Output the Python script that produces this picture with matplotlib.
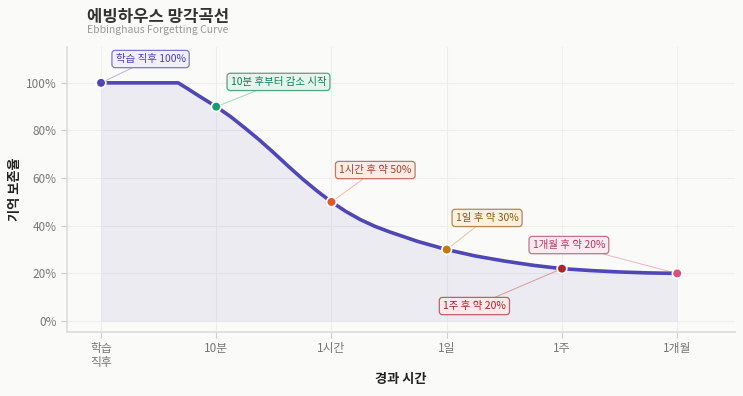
import matplotlib.pyplot as plt

plt.rcParams['font.family'] = ['Noto Sans CJK KR', 'DejaVu Sans']

# key points
labels = ['학습\n직후', '10분', '1시간', '1일', '1주', '1개월']
key_x = [0, 1, 2, 3, 4, 5]
key_y = [100, 90, 50, 30, 22, 20]
key_colors = ['#5046b4', '#1a9a74', '#e0582a', '#c07a10', '#a8282e', '#d9507a']
text_colors = ['#4a3fb0', '#137a5c', '#a0422a', '#8a5a14', '#a0262c', '#a83a5e']
box_fill = ['#f1effc', '#e4f5ee', '#fdebe4', '#fdf1de', '#fde9e9', '#fdeaf0']
notes = ['학습 직후 100%', '10분 후부터 감소 시작', '1시간 후 약 50%',
         '1일 후 약 30%', '1주 후 약 20%', '1개월 후 약 20%']
note_x = [0.43, 1.54, 2.38, 3.35, 3.24, 4.06]
note_y = [110, 100.4, 63.4, 43.3, 6.3, 31.9]

# curve
curve_x = [0, 0.67, 0.75, 0.85, 1, 1.125, 1.25, 1.375, 1.5, 1.625, 1.75, 1.875, 2,
           2.125, 2.25, 2.375, 2.5, 2.75, 3, 3.25, 3.5, 3.75, 4, 4.25, 4.5, 4.75, 5]
curve_y = [100, 100, 97.6, 94.5, 90, 85.8, 81, 76, 70.6, 65, 59.6, 54.6, 50,
           46, 42.6, 39.8, 37.5, 33.4, 30, 27.3, 25.2, 23.4, 22, 21.2, 20.6, 20.2, 20]

bg = '#fafaf8'
fig = plt.figure(figsize=(7.43, 3.96), dpi=100, facecolor=bg)
ax = fig.add_axes([0.0902, 0.1616, 0.8988, 0.7194], facecolor=bg)

ax.fill_between(curve_x, curve_y, 0, color='#5046b4', alpha=0.08, lw=0)
ax.plot(curve_x, curve_y, color='#5046b4', lw=2.6, solid_capstyle='round',
        solid_joinstyle='round', zorder=3)
ax.scatter(key_x, key_y, s=48, c=key_colors, edgecolors='white', linewidths=1.2, zorder=5)

for x, y, t, tx, ty, c, tc, fc in zip(key_x, key_y, notes, note_x, note_y,
                                      key_colors, text_colors, box_fill):
    ax.annotate(t, xy=(x, y), xytext=(tx, ty), ha='center', va='center',
                fontsize=7.5, color=tc,
                bbox=dict(boxstyle='round,pad=0.35,rounding_size=0.3', fc=fc, ec=tc + 'b0', lw=0.9),
                arrowprops=dict(arrowstyle='-', color=c, lw=0.7, alpha=0.4, shrinkA=0, shrinkB=4),
                zorder=6)

ax.set_xlim(-0.295, 5.5)
ax.set_ylim(-4.6, 115)
ax.set_xticks(key_x)
ax.set_xticklabels(labels, linespacing=1.1)
ax.set_yticks([0, 20, 40, 60, 80, 100])
ax.set_yticklabels(['0%', '20%', '40%', '60%', '80%', '100%'])
ax.tick_params(colors='#cccccc', labelcolor='#777777', labelsize=8.5, length=4, width=0.8)

ax.grid(True, color='#eeeeee', lw=0.8)
ax.set_axisbelow(True)
for s in ['top', 'right']:
    ax.spines[s].set_visible(False)
for s in ['left', 'bottom']:
    ax.spines[s].set_color('#dddddd')
    ax.spines[s].set_linewidth(1.2)

ax.set_xlabel('경과 시간', fontsize=9.5, fontweight='bold', color='#222222', labelpad=2)
ax.set_ylabel('기억 보존율', fontsize=9.5, fontweight='bold', color='#222222', labelpad=3)

fig.text(0.117, 0.958, '에빙하우스 망각곡선', fontsize=12, fontweight='bold', color='#333333', va='center')
fig.text(0.117, 0.924, 'Ebbinghaus Forgetting Curve', fontsize=7.5, color='#999999', va='center')

fig.savefig('out.png', dpi=100, facecolor=bg)
